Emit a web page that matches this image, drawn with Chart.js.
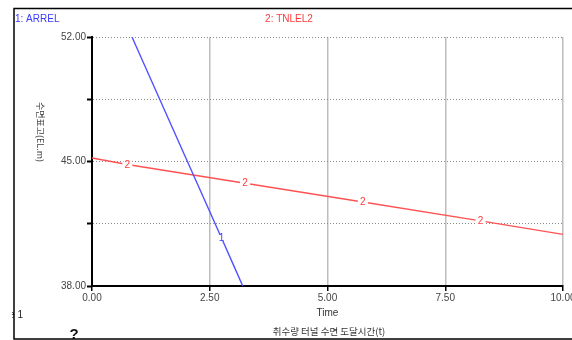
<!DOCTYPE html>
<html>
<head>
<meta charset="utf-8">
<script src="https://cdn.jsdelivr.net/npm/chart.js@4/dist/chart.umd.min.js"></script>
<style>
  html, body { margin: 0; padding: 0; background: #fff; }
  canvas { display: block; }
</style>
</head>
<body>
<canvas id="c" width="572" height="340"></canvas>
<script>
// ---- data ----
const seriesNames = ["1: ARREL", "2: TNLEL2"];
const blueT = [0, 1, 2, 2.75, 3, 4];
const blueV = [57.1, 51.1, 45.15, 40.7, 39.2, 33.2];
const redT = [0, 0.75, 3.25, 5.75, 8.25, 10];
const redV = [45.2, 44.83, 43.78, 42.72, 41.66, 40.9];
const blueLabelIdx = [3];
const redLabelIdx = [1, 2, 3, 4];
const xTicks = [0, 2.5, 5, 7.5, 10];
const yTicks = [38, 41.5, 45, 48.5, 52];
const yLabelled = [38, 45, 52];
const xTitle = "Time";
const yTitle = "수면표고(EL.m)";
const bottomTitle = "취수량 터널 수면 도달시간(t)";

const FONT = '"Liberation Sans", Arial, sans-serif';
const BLUE_LINE = '#5252ff', BLUE_TXT = '#3a3aff';
const RED_LINE = '#ff5252', RED_TXT = '#ff3a3a';

const toXY = (ts, vs) => ts.map((t, i) => ({x: t, y: vs[i]}));

const decor = {
  id: 'decor',
  beforeDraw(chart) {
    const ctx = chart.ctx;
    ctx.save();
    ctx.fillStyle = '#fff';
    ctx.fillRect(0, 0, chart.width, chart.height);
    ctx.restore();
  },
  afterDatasetsDraw(chart) {
    const ctx = chart.ctx;
    const draw = (dsIndex, idxs, txt, color) => {
      const meta = chart.getDatasetMeta(dsIndex);
      idxs.forEach(i => {
        const p = meta.data[i];
        ctx.save();
        ctx.fillStyle = '#fff';
        ctx.fillRect(p.x - 5, p.y - 3, 10, 6);
        ctx.fillStyle = color;
        ctx.font = '10px ' + FONT;
        ctx.textAlign = 'center';
        ctx.textBaseline = 'middle';
        ctx.fillText(txt, p.x, p.y + 0.5);
        ctx.restore();
      });
    };
    draw(0, blueLabelIdx, '1', BLUE_TXT);
    draw(1, redLabelIdx, '2', RED_TXT);
  },
  afterDraw(chart) {
    const ctx = chart.ctx;
    const area = chart.chartArea;
    ctx.save();
    // legend-like titles
    ctx.font = '10px ' + FONT;
    ctx.textBaseline = 'middle';
    ctx.textAlign = 'left';
    ctx.fillStyle = BLUE_TXT;
    ctx.fillText(seriesNames[0], 15, 19);
    ctx.textAlign = 'center';
    ctx.fillStyle = RED_TXT;
    ctx.fillText(seriesNames[1], 289, 19);

    // axis titles
    ctx.fillStyle = '#333';
    ctx.font = '10px ' + FONT;
    ctx.fillText(xTitle, (area.left + area.right) / 2, 313);
    ctx.font = '9.5px "Noto Sans CJK KR", sans-serif';
    ctx.fillText(bottomTitle, 329, 331);

    // y title rotated clockwise
    ctx.save();
    ctx.translate(40, 132);
    ctx.rotate(Math.PI / 2);
    ctx.font = '9px "Noto Sans CJK KR", sans-serif';
    ctx.fillStyle = '#444';
    ctx.textAlign = 'center';
    ctx.textBaseline = 'middle';
    ctx.fillText(yTitle, 0, 0);
    ctx.restore();

    // "Page 1" fragment and "?"
    ctx.save();
    ctx.beginPath();
    ctx.rect(12, 0, 200, 340);
    ctx.clip();
    ctx.fillStyle = '#222';
    ctx.font = '10px ' + FONT;
    ctx.textAlign = 'right';
    ctx.textBaseline = 'middle';
    ctx.fillText('Page 1', 23, 315);
    ctx.restore();

    ctx.fillStyle = '#111';
    ctx.font = 'bold 15px ' + FONT;
    ctx.textAlign = 'center';
    ctx.textBaseline = 'top';
    ctx.fillText('?', 74, 327);

    // frame
    ctx.strokeStyle = '#000';
    ctx.lineWidth = 1.5;
    ctx.beginPath();
    ctx.moveTo(572, 8.5);
    ctx.lineTo(14, 8.5);
    ctx.lineTo(14, 339);
    ctx.lineTo(572, 339);
    ctx.stroke();
    ctx.restore();
  }
};

new Chart(document.getElementById('c'), {
  type: 'line',
  data: {
    datasets: [
      { label: seriesNames[0], data: toXY(blueT, blueV), borderColor: BLUE_LINE, borderWidth: 1.4,
        pointRadius: 0, tension: 0, fill: false },
      { label: seriesNames[1], data: toXY(redT, redV), borderColor: RED_LINE, borderWidth: 1.4,
        pointRadius: 0, tension: 0, fill: false }
    ]
  },
  options: {
    responsive: false,
    devicePixelRatio: 1,
    animation: false,
    events: [],
    layout: { padding: { top: 37, right: 9, left: 0, bottom: 0 } },
    plugins: { legend: { display: false }, tooltip: { enabled: false }, title: { display: false } },
    scales: {
      x: {
        type: 'linear',
        min: 0, max: 10,
        afterBuildTicks: s => { s.ticks = xTicks.map(v => ({value: v})); },
        afterFit: s => { s.height = 54; s.paddingLeft = 0; s.paddingRight = 0; },
        ticks: {
          autoSkip: false, maxRotation: 0, padding: 1,
          color: '#444', font: { family: FONT, size: 10 },
          callback: v => Number(v).toFixed(2)
        },
        grid: { color: '#bdbdbd', lineWidth: 1.5, tickColor: '#000', tickWidth: 1.5, tickLength: 5, drawTicks: true },
        border: { display: true, color: '#000', width: 2 }
      },
      y: {
        type: 'linear',
        min: 38, max: 52,
        afterBuildTicks: s => { s.ticks = yTicks.map(v => ({value: v})); },
        afterFit: s => { s.width = 92; s.paddingTop = 0; s.paddingBottom = 0; },
        ticks: {
          autoSkip: false, padding: 1,
          color: '#444', font: { family: FONT, size: 10 },
          callback: v => yLabelled.includes(v) ? Number(v).toFixed(2) : ''
        },
        grid: { color: '#8a8a8a', lineWidth: 1, tickColor: '#000', tickWidth: 2, tickLength: 5, drawTicks: true },
        border: { display: true, color: '#000', width: 2, dash: [1, 2] }
      }
    }
  },
  plugins: [decor]
});
</script>
</body>
</html>
